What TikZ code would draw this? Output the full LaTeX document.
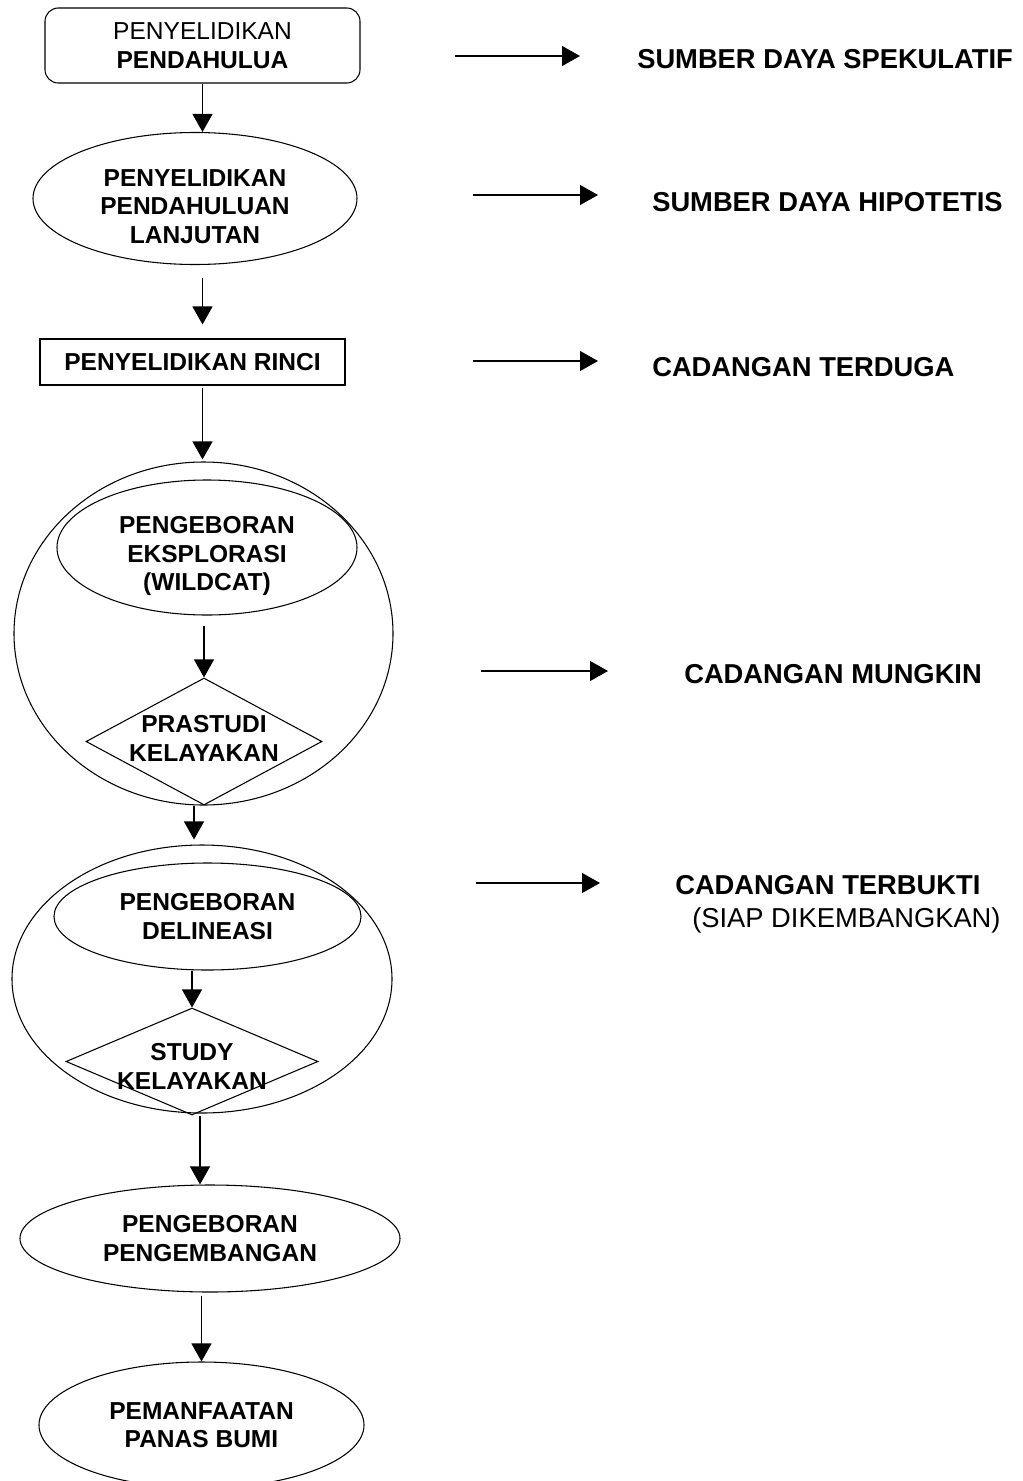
\documentclass[tikz,border=0pt]{standalone}
\usepackage{fontspec}
\setmainfont{Liberation Sans}
\usetikzlibrary{shapes.geometric, arrows.meta, positioning, calc}

\newcommand{\px}{0.75pt}
\newcommand{\lefttext}{\fontsize{18.4}{21.4}\selectfont\bfseries}
\newcommand{\righttext}{\fontsize{20.5}{24}\selectfont\bfseries}

\begin{document}
\begin{tikzpicture}[x=0.75pt, y=-0.75pt,
    flow/.style={draw, line width=0.8pt, -{Triangle[length=13.5pt, width=15pt]}},
    shapebox/.style={draw, line width=0.8pt, inner sep=0pt, align=center, font=\lefttext},
    oval/.style={shapebox, ellipse},
    rhomb/.style={shapebox, diamond},
    result/.style={anchor=west, inner sep=0pt, font=\righttext}]
    \useasboundingbox (0,0) rectangle (1023,1481);
    \clip (0,0) rectangle (1023,1481);

    % --- Stages ---
    \node[shapebox, rounded corners=10pt, minimum width=315*\px, minimum height=75*\px] (pend) at (202.5,45.5) {{\mdseries PENYELIDIKAN}\\PENDAHULUA};
    \node[oval, minimum width=324*\px, minimum height=132*\px,
        label={[font=\lefttext, align=center, yshift=-6pt]center:PENYELIDIKAN\\PENDAHULUAN\\LANJUTAN}] (lanj) at (195,198.5) {};
    \node[shapebox, minimum width=305*\px, minimum height=46*\px] (rinci) at (192.5,362) {PENYELIDIKAN RINCI};

    % eksplorasi group
    \node[oval, minimum width=379*\px, minimum height=343*\px] (eksA) at (203.5,633.5) {};
    \node[oval, minimum width=300*\px, minimum height=135*\px,
        label={[font=\lefttext, align=center, yshift=-6.5pt]center:PENGEBORAN\\EKSPLORASI\\(WILDCAT)}] (wild) at (207,547.5) {};
    \node[rhomb, minimum width=236*\px, minimum height=127*\px,
        label={[font=\lefttext, align=center, yshift=2.25pt]center:PRASTUDI\\KELAYAKAN}] (pras) at (204,741.5) {};

    % delineasi group
    \node[oval, minimum width=380*\px, minimum height=268*\px] (delA) at (202,979) {};
    \node[oval, minimum width=307*\px, minimum height=107*\px] (deli) at (207.5,916.5) {PENGEBORAN\\DELINEASI};
    \node[rhomb, minimum width=252*\px, minimum height=107*\px,
        label={[font=\lefttext, align=center, yshift=-3.75pt]center:STUDY\\KELAYAKAN}] (stud) at (192,1061.5) {};

    \node[oval, minimum width=380*\px, minimum height=107*\px] (kemb) at (210,1238.5) {PENGEBORAN\\PENGEMBANGAN};
    \node[oval, minimum width=325*\px, minimum height=126*\px] (manf) at (201.5,1425) {PEMANFAATAN\\PANAS BUMI};

    % --- Flow ---
    \draw[flow] (pend.south) -- (pend.south |- lanj.north);
    \draw[flow, shorten <=13*\px, shorten >=14*\px] (lanj.south -| pend.south) -- (rinci.north -| pend.south);
    \draw[flow, shorten <=2*\px, shorten >=2*\px] (rinci.south -| pend.south) -- (pend.south |- eksA.north);
    \draw[flow, shorten <=10*\px] (wild.south -| pras.north) -- (pras.north);
    \draw[flow, shorten >=5*\px] ([xshift=-7.5pt]pras.south) -- ([xshift=-7.5pt]pras.south |- delA.north);
    \draw[flow] (deli.south -| stud.north) -- (stud.north);
    \draw[flow] ([xshift=6pt]stud.south) -- ([xshift=6pt]stud.south |- kemb.north);
    \draw[flow, shorten <=3*\px] (kemb.south -| manf.north) -- (manf.north);

    % --- Resource classes ---
    \node[result] (spek) at (637,59) {SUMBER DAYA SPEKULATIF};
    \node[result] (hipo) at (652,202) {SUMBER DAYA HIPOTETIS};
    \node[result] (terd) at (652,367) {CADANGAN TERDUGA};
    \node[result] (mung) at (684,674) {CADANGAN MUNGKIN};
    \node[result] (terb) at (675,885) {CADANGAN TERBUKTI};
    \node[result, font=\fontsize{20.5}{24}\selectfont] (siap) at (692,920) {(SIAP DIKEMBANGKAN)};

    \coordinate (s1) at (455,56);
    \coordinate (s2) at (473,195);
    \coordinate (s3) at (473,361);
    \coordinate (s4) at (481,671);
    \coordinate (s5) at (476,883);
    \foreach \s/\t/\g in {s1/spek/57, s2/hipo/54, s3/terd/54, s4/mung/76, s5/terb/75}
        \draw[flow, shorten >=\g*\px] (\s) -- (\s -| \t.west);

\end{tikzpicture}
\end{document}
